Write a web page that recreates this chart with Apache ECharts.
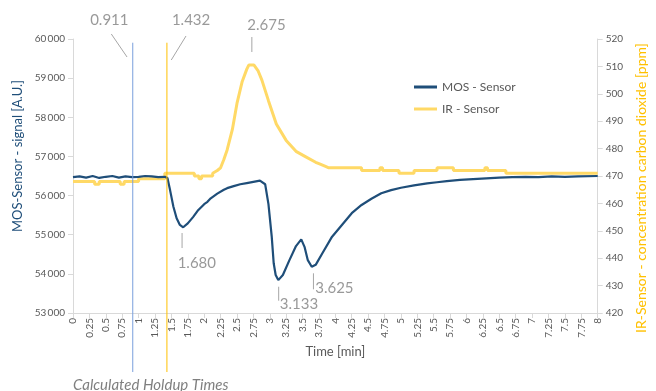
<!DOCTYPE html>
<html>
<head>
<meta charset="utf-8">
<script src="https://cdn.jsdelivr.net/npm/echarts@6/dist/echarts.min.js"></script>
<style>
  html, body { margin: 0; padding: 0; background: #fff; }
  #chart { width: 656px; height: 391px; }
</style>
</head>
<body>
<div id="chart"></div>
<script>
// MOS sensor signal [A.U.] over time [min]
var mosTime = [0, 0.1, 0.2, 0.3, 0.4, 0.5, 0.6, 0.7, 0.8, 0.9, 1.0, 1.1, 1.2, 1.3, 1.4, 1.44,
  1.48, 1.53, 1.58, 1.63, 1.68, 1.75, 1.83, 1.9, 2.0, 2.05, 2.1, 2.2, 2.3, 2.35, 2.45, 2.55,
  2.65, 2.75, 2.85, 2.88, 2.93, 2.98, 3.03, 3.06, 3.09, 3.13, 3.2, 3.3, 3.4, 3.48, 3.53, 3.58,
  3.64, 3.7, 3.8, 3.95, 4.1, 4.25, 4.4, 4.55, 4.7, 4.85, 5.0, 5.2, 5.4, 5.55, 5.7, 5.9,
  6.1, 6.3, 6.5, 6.7, 6.9, 7.1, 7.3, 7.5, 7.7, 8.0];
var mosSignal = [56470, 56490, 56460, 56500, 56450, 56480, 56500, 56460, 56490, 56470, 56480, 56500, 56490, 56470, 56480, 56450,
  56140, 55720, 55420, 55250, 55190, 55290, 55450, 55610, 55780, 55840, 55930, 56050, 56150, 56190, 56240, 56290,
  56320, 56350, 56380, 56400, 56290, 55780, 54950, 54270, 53970, 53840, 53970, 54350, 54710, 54880, 54690, 54350,
  54180, 54230, 54520, 54950, 55250, 55550, 55760, 55920, 56060, 56140, 56200, 56260, 56310, 56340, 56370, 56400,
  56420, 56440, 56460, 56470, 56480, 56470, 56490, 56480, 56490, 56500];

// IR sensor CO2 concentration [ppm] over time [min]
var irTime = [0, 0.33, 0.33, 0.4, 0.4, 0.72, 0.72, 0.78, 0.78, 1.0, 1.0, 1.4, 1.4, 1.85, 1.85, 1.92,
  1.92, 1.96, 1.96, 2.13, 2.13, 2.2, 2.25, 2.3, 2.35, 2.43, 2.5, 2.58, 2.65, 2.68, 2.76, 2.82,
  2.88, 2.98, 3.1, 3.25, 3.4, 3.55, 3.7, 3.75, 3.85, 3.9, 4.4, 4.4, 4.68, 4.68, 4.72, 4.72,
  4.97, 4.97, 5.2, 5.2, 5.55, 5.55, 5.8, 5.8, 6.28, 6.28, 6.32, 6.32, 6.6, 6.6, 8.0];
var irPpm = [468, 468, 467, 467, 468, 468, 467, 467, 468, 468, 469, 469, 471, 471, 470, 470,
  469, 469, 470, 470, 471, 472, 473, 476, 479.5, 487, 496.5, 504.5, 509, 510.5, 510.5, 508.5,
  505, 497.5, 489, 483, 479, 477, 475, 474.5, 473.5, 473, 473, 472, 472, 473, 473, 472,
  472, 471, 471, 472, 472, 473, 473, 472, 472, 473, 473, 472, 472, 471, 471];

// calculated holdup times [min]
var holdupTimes = [0.911, 1.432];

// annotation labels, with their anchor and leader line in (time, MOS signal) units
var noteLabels = ['0.911', '1.432', '2.675', '1.680', '3.133', '3.625'];
var noteAnchors = [[0.554, 60485], [1.80, 60485], [2.95, 60358], [1.888, 54277], [3.446, 53216], [3.985, 53625]];
var noteLeaders = [
  [[0.584, 60128], [0.824, 59540]],
  [[1.723, 60077], [1.498, 59463]],
  [[2.727, 60051], [2.727, 59668]],
  [[1.663, 55043], [1.663, 54660]],
  [[3.136, 53671], [3.136, 53314]],
  [[3.666, 54014], [3.666, 53605]]
];

function zip(a, b) {
  return a.map(function (v, i) { return [v, b[i]]; });
}

var chart = echarts.init(document.getElementById('chart'));
var font = 'Lato, "Open Sans", sans-serif';
var axisGrey = '#D9D9D9';
var textGrey = '#595959';
var mosColor = '#1F4E79';
var irColor = '#FFD966';

// plain two-point line series, allowed to run outside the plot area
function segment(name, coords, color, width) {
  return {
    name: name,
    type: 'line',
    yAxisIndex: 0,
    clip: false,
    silent: true,
    symbol: 'none',
    data: coords,
    lineStyle: { color: color, width: width },
    itemStyle: { color: color },
    z: 4
  };
}

var holdupColors = ['#7A9FDC', '#FFC000'];
var holdupSeries = holdupTimes.map(function (t, i) {
  return segment('holdup' + i, [[t, 59905], [t, 51492]], holdupColors[i], 1);
});
var leaderSeries = noteLeaders.map(function (c, i) {
  return segment('leader' + i, c, '#A6A6A6', 1);
});

var option = {
  animation: false,
  textStyle: { fontFamily: font },
  title: {
    text: 'Calculated Holdup Times',
    left: 68,
    top: 373,
    textStyle: { fontFamily: font, fontSize: 15, fontStyle: 'italic', fontWeight: 'normal', color: '#7F7F7F' }
  },
  grid: { left: 73, right: 49, top: 39, bottom: 78 },
  legend: {
    data: [
      { name: 'MOS - Sensor', icon: 'rect', itemStyle: { color: mosColor } },
      { name: 'IR - Sensor', icon: 'rect', itemStyle: { color: irColor } }
    ],
    orient: 'vertical',
    left: 409,
    top: 75,
    itemWidth: 23,
    itemHeight: 3,
    itemGap: 8,
    textStyle: { color: textGrey, fontSize: 12, fontFamily: font, lineHeight: 14 }
  },
  xAxis: {
    type: 'value',
    min: 0,
    max: 8,
    interval: 0.25,
    name: 'Time [min]',
    nameLocation: 'middle',
    nameGap: 32,
    nameTextStyle: { color: textGrey, fontSize: 13, fontFamily: font },
    axisLine: { show: true, lineStyle: { color: axisGrey } },
    axisTick: { show: true, length: 5, lineStyle: { color: axisGrey } },
    axisLabel: { rotate: 90, fontSize: 10, color: textGrey, margin: 5 },
    splitLine: { show: false }
  },
  yAxis: [
    {
      type: 'value',
      min: 53000,
      max: 60000,
      interval: 1000,
      position: 'left',
      name: 'MOS-Sensor - signal [A.U.]',
      nameLocation: 'middle',
      nameRotate: 90,
      nameGap: 46,
      nameTextStyle: { color: mosColor, fontSize: 13, fontFamily: font, padding: [0, 0, 0, 40] },
      axisLine: { show: true, lineStyle: { color: axisGrey } },
      axisTick: { show: true, length: 5, lineStyle: { color: axisGrey } },
      axisLabel: {
        fontSize: 10, color: textGrey, margin: 8,
        formatter: function (v) { return String(v).replace(/(\d{3})$/, '\u2009$1'); }
      },
      splitLine: { show: false }
    },
    {
      type: 'value',
      min: 420,
      max: 520,
      interval: 10,
      position: 'right',
      name: 'IR-Sensor - concentration carbon dioxide [ppm]',
      nameLocation: 'middle',
      nameRotate: 90,
      nameGap: 33,
      nameTextStyle: { color: '#FFC000', fontSize: 14, fontFamily: font, padding: [0, 24, 0, 0] },
      axisLine: { show: true, lineStyle: { color: axisGrey } },
      axisTick: { show: true, length: 5, lineStyle: { color: axisGrey } },
      axisLabel: { fontSize: 10, color: textGrey, margin: 8 },
      splitLine: { show: false }
    }
  ],
  series: [
    {
      name: 'IR - Sensor',
      type: 'line',
      yAxisIndex: 1,
      symbol: 'none',
      data: zip(irTime, irPpm),
      lineStyle: { color: irColor, width: 3 },
      itemStyle: { color: irColor },
      z: 2
    },
    {
      name: 'MOS - Sensor',
      type: 'line',
      yAxisIndex: 0,
      symbol: 'none',
      data: zip(mosTime, mosSignal),
      lineStyle: { color: mosColor, width: 2.2 },
      itemStyle: { color: mosColor },
      z: 3
    }
  ].concat(holdupSeries, leaderSeries, [
    {
      name: 'notes',
      type: 'scatter',
      yAxisIndex: 0,
      clip: false,
      silent: true,
      symbolSize: 0,
      data: noteAnchors.map(function (p, i) { return [p[0], p[1], noteLabels[i]]; }),
      label: {
        show: true,
        position: 'inside',
        color: '#7F7F7F',
        fontSize: 15,
        fontFamily: font,
        formatter: function (p) { return p.value[2]; }
      },
      z: 5
    }
  ])
};

chart.setOption(option);
</script>
</body>
</html>
